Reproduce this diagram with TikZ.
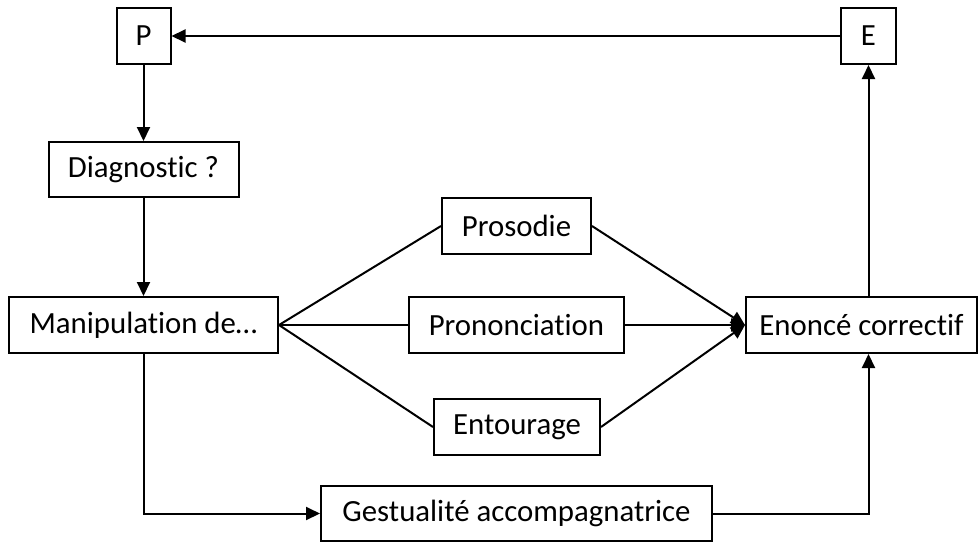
\documentclass[tikz,border=0pt]{standalone}
\usepackage{fontspec}
\setmainfont{Carlito}[Ligatures={NoCommon,NoContextual}]
\usetikzlibrary{arrows.meta}
\begin{document}
\begin{tikzpicture}[x=0.5pt,y=-0.5pt,
  box/.style={draw,line width=1pt,inner sep=0pt,minimum height=28pt,font=\fontsize{15.4}{18}\selectfont},
  arr/.style={line width=1pt,-{Triangle[length=7pt,width=6.5pt]}},
  ln/.style={line width=1pt}]
\useasboundingbox (0,0) rectangle (980,542);
\node[box,minimum width=27pt] (P) at (143.5,36) {P};
\node[box,minimum width=27.5pt] (E) at (868.5,36) {E};
\node[box,minimum width=95pt,minimum height=27.5pt] (Diag) at (143.5,169.5) {Diagnostic ?};
\node[box,minimum width=134.5pt] (Manip) at (143.5,325) {Manipulation de…};
\node[box,minimum width=74.5pt] (Pros) at (516.5,226) {Prosodie};
\node[box,minimum width=107.5pt] (Pron) at (516.5,325) {Prononciation};
\node[box,minimum width=83pt] (Ent) at (517,427) {Entourage};
\node[box,minimum width=115.5pt] (Enon) at (861.5,325) {Enoncé correctif};
\node[box,minimum width=195.5pt,minimum height=27.5pt] (Gest) at (516.5,513.5) {Gestualité accompagnatrice};
\draw[arr] (E) -- (P);
\draw[arr] (P) -- (Diag);
\draw[arr] (Diag.south) -- (Diag.south |- Manip.north);
\draw[ln] (Manip.east) -- (Pros.west);
\draw[ln] (Manip.east) -- (Pron.west);
\draw[ln] (Manip.east) -- (Ent.west);
\draw[arr] (Pros.east) -- (Enon.west);
\draw[arr] (Pron.east) -- (Enon.west);
\draw[arr] (Ent.east) -- (Enon.west);
\draw[arr] (Enon.north -| E) -- (E.south);
\draw[arr] (Manip.south) |- (Gest.west);
\draw[arr] (Gest.east) -| (Enon.south -| E);
\end{tikzpicture}
\end{document}
